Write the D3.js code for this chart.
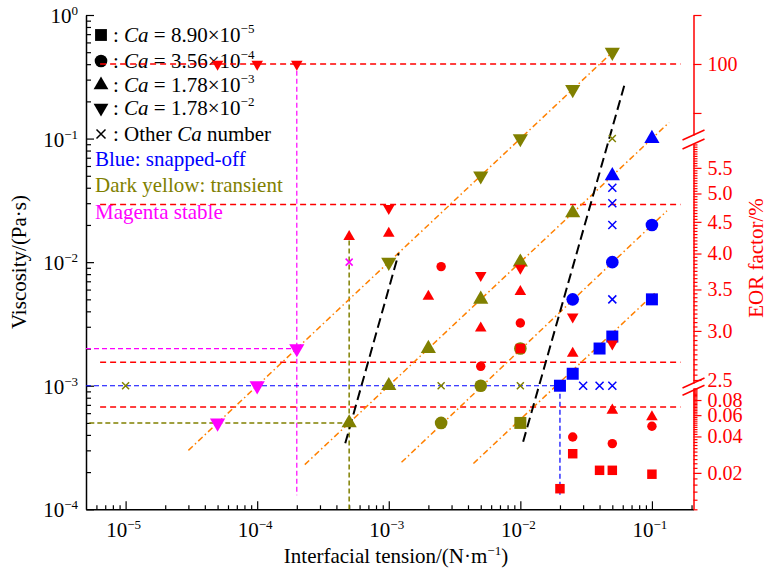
<!DOCTYPE html>
<html>
<head>
<meta charset="utf-8">
<script src="https://cdn.jsdelivr.net/npm/d3@7"></script>
<style>
body { margin: 0; background: #fff; }
svg, svg text { font-family: "Liberation Serif", "Times New Roman", serif; }
</style>
</head>
<body>
<svg id="chart" width="769" height="574"></svg>
<script>
// ---- data: [interfacial tension, viscosity] ----
var xMajor = [1e-5, 1e-4, 1e-3, 1e-2, 1e-1];
var yMajor = [1e-4, 1e-3, 1e-2, 1e-1, 1];

var blueSquares = [[2e-2, 1e-3], [2.5e-2, 1.25e-3], [4e-2, 2e-3], [5e-2, 2.5e-3], [0.1, 5e-3]];
var blueCircles = [[2.5e-2, 5e-3], [5e-2, 1e-2], [0.1, 2e-2]];
var blueUp = [[5e-2, 5e-2], [0.1, 0.1]];
var blueCross = [[3e-2, 1e-3], [4e-2, 1e-3], [5e-2, 1e-3], [5e-2, 5e-3], [5e-2, 2e-2], [5e-2, 3e-2], [5e-2, 4e-2]];

var yellowSquares = [[1e-2, 5e-4]];
var yellowCircles = [[2.5e-3, 5e-4], [5e-3, 1e-3], [1e-2, 2e-3]];
var yellowUp = [[5e-4, 5e-4], [1e-3, 1e-3], [2e-3, 2e-3], [5e-3, 5e-3], [1e-2, 1e-2], [2.5e-2, 2.5e-2]];
var yellowDown = [[1e-3, 1e-2], [5e-3, 5e-2], [1e-2, 0.1], [2.5e-2, 0.25], [5e-2, 0.5]];
var yellowCross = [[1e-5, 1e-3], [2.5e-3, 1e-3], [1e-2, 1e-3], [5e-2, 0.1]];

var magentaDown = [[5e-5, 5e-4], [1e-4, 1e-3], [2e-4, 2e-3]];
var magentaCross = [[5e-4, 1e-2]];

// EOR factor (right axis): [interfacial tension, EOR %]
var eorSquares = [[1e-2, 2.81], [2e-2, 0.0148], [2.5e-2, 0.0288], [4e-2, 0.021], [5e-2, 0.021], [0.1, 0.0195]];
var eorCircles = [[2.5e-3, 3.81], [5e-3, 2.63], [1e-2, 3.09], [2.5e-2, 0.0396], [5e-2, 0.0349], [0.1, 0.0486]];
var eorUp = [[5e-4, 4.26], [1e-3, 4.31], [2e-3, 3.41], [5e-3, 3.03], [1e-2, 3.47], [2.5e-2, 2.76], [5e-2, 0.0658], [0.1, 0.058]];
var eorDown = [[5e-5, 100], [1e-4, 100], [2e-4, 100], [1e-3, 4.73], [5e-3, 3.69], [1e-2, 3.79], [2.5e-2, 3.16], [5e-2, 2.86]];
var eorLines = [100, 4.8, 2.67, 0.07];
var eorLineSpan = [6.4e-6, 0.165];

// constant-Ca fit lines and transition lines (end points)
var fitLines = [
    [[3e-5, 3e-4], [5e-2, 0.5]],
    [[2.3e-4, 2.3e-4], [0.135, 0.135]],
    [[1.25e-3, 2.4e-4], [0.13, 0.026]],
    [[4.4e-3, 2.35e-4], [0.105, 5.6e-3]]
];
var blackLines = [
    [[4.67e-4, 3.42e-4], [1.19e-3, 1.18e-2]],
    [[1.05e-2, 3.52e-4], [6.28e-2, 0.288]]
];
var magentaGuides = [[[2e-4, 0.41], [2e-4, 1.3e-4]], [[5e-6, 2e-3], [2e-4, 2e-3]]];
var blueGuides = [[[5e-6, 1e-3], [2e-2, 1e-3]], [[2e-2, 1e-3], [2e-2, 1.3e-4]]];
var yellowGuides = [[[5.3e-6, 5e-4], [5e-4, 5e-4]], [[5e-4, 1.5e-2], [5e-4, 1e-4]]];

// right axis ticks
var topTicks = [80, 100, 120];
var midMajor = [2.5, 3.0, 3.5, 4.0, 4.5, 5.0, 5.5];
var botMajor = [0.02, 0.04, 0.06, 0.08];

var legendCa = ["8.90", "3.56", "1.78", "1.78"];
var legendExp = ["\u22125", "\u22124", "\u22123", "\u22122"];

// ---- scales ----
var x = d3.scaleLog().domain([5e-6, 0.207]).range([86, 693.5]);
var y = d3.scaleLog().domain([1e-4, 1]).range([509.3, 15]);
var eorTop = d3.scaleLinear().domain([71, 120]).range([135, 15]);
var eorMid = d3.scaleLog().domain([2.472, 6.01]).range([383, 144]);
var eorBot = d3.scaleLog().domain([0.01, 0.1]).range([509.3, 388.3]);
function eorY(v) {
    if (v >= 50) return eorTop(v);
    if (v >= 2) return eorMid(v);
    return eorBot(v);
}

var svg = d3.select("#chart");
var RED = "#ff0000", BLUE = "#0000ff", DY = "#808000", MAG = "#ff00ff", ORANGE = "#ff8000";

// minor ticks
function minorLog(lo, hi) {
    var out = [];
    for (var e = -6; e <= 0; e++) {
        for (var m = 2; m <= 9; m++) {
            var v = m * Math.pow(10, e);
            if (v >= lo && v <= hi) out.push(v);
        }
    }
    return out;
}
function stepTicks(lo, hi, step, skip) {
    var out = [];
    for (var v = lo; v <= hi + 1e-9; v += step) {
        var r = +v.toFixed(4);
        if (skip.indexOf(r) < 0) out.push(r);
    }
    return out;
}

// ---- axes ----
function supLabel(sel, exp) {
    sel.append("tspan").text("10");
    sel.append("tspan").attr("dy", -8).attr("font-size", 13).text(exp);
}
function expText(v) {
    var e = Math.round(Math.log10(v));
    return e < 0 ? "\u2212" + (-e) : "" + e;
}

var xAxis = svg.append("g").attr("transform", "translate(0," + y.range()[0] + ")");
xAxis.call(d3.axisBottom(x).tickValues(xMajor).tickSize(-8).tickSizeOuter(0).tickFormat(""));
svg.append("g").attr("transform", "translate(0," + y.range()[0] + ")")
    .call(d3.axisBottom(x).tickValues(minorLog(5e-6, 0.207)).tickSize(-4).tickSizeOuter(0).tickFormat(""))
    .select(".domain").remove();
var yAxis = svg.append("g").attr("transform", "translate(" + x.range()[0] + ",0)");
yAxis.call(d3.axisLeft(y).tickValues(yMajor).tickSize(-8).tickSizeOuter(0).tickFormat(""));
svg.append("g").attr("transform", "translate(" + x.range()[0] + ",0)")
    .call(d3.axisLeft(y).tickValues(minorLog(1e-4, 1)).tickSize(-5).tickSizeOuter(0).tickFormat(""))
    .select(".domain").remove();
svg.selectAll(".domain").attr("stroke", "#000").attr("stroke-width", 1.5);
svg.selectAll(".tick line").attr("stroke", "#000").attr("stroke-width", 1.2);

xMajor.forEach(function (v) {
    var t = svg.append("text").attr("x", x(v) - 2).attr("y", 537)
        .attr("text-anchor", "middle").attr("font-size", 21);
    supLabel(t, expText(v));
});
yMajor.forEach(function (v) {
    var t = svg.append("text").attr("x", 78).attr("y", y(v) + 8)
        .attr("text-anchor", "end").attr("font-size", 21);
    supLabel(t, expText(v));
});

// right (EOR) broken axis
var rx = x.range()[1];
function redAxis(scale, major, minor, fmt) {
    var g = svg.append("g").attr("class", "eor").attr("transform", "translate(" + rx + ",0)");
    g.call(d3.axisRight(scale).tickValues(major).tickSize(8).tickSizeOuter(0).tickPadding(6).tickFormat(fmt));
    if (minor.length) {
        svg.append("g").attr("class", "eor").attr("transform", "translate(" + rx + ",0)")
            .call(d3.axisRight(scale).tickValues(minor).tickSize(4).tickSizeOuter(0).tickFormat(""))
            .select(".domain").remove();
    }
}
redAxis(eorTop, topTicks, [], function (d) { return d === 100 ? "100" : ""; });
redAxis(eorMid, midMajor, stepTicks(2.5, 6.0, 0.05, midMajor), d3.format(".1f"));
redAxis(eorBot, botMajor, stepTicks(0.01, 0.1, 0.002, botMajor), function (d) { return d.toFixed(2); });
svg.selectAll("g.eor").attr("font-family", null).attr("font-size", null);
svg.selectAll("g.eor .domain").attr("stroke", RED).attr("stroke-width", 1.5);
svg.selectAll("g.eor .tick line").attr("stroke", RED).attr("stroke-width", 1.2);
svg.selectAll("g.eor text").attr("fill", RED).attr("font-size", 20);
// break marks
[eorTop.range()[0], eorMid.range()[1], eorMid.range()[0], eorBot.range()[1] + 2].forEach(function (yy) {
    svg.append("line").attr("x1", rx - 11).attr("y1", yy + 5).attr("x2", rx + 11).attr("y2", yy - 5)
        .attr("stroke", RED).attr("stroke-width", 1.5);
});

// titles
svg.append("text").attr("transform", "translate(26,262) rotate(-90)")
    .attr("text-anchor", "middle").attr("font-size", 21).text("Viscosity/(Pa\u00b7s)");
svg.append("text").attr("transform", "translate(763,258) rotate(-90)")
    .attr("text-anchor", "middle").attr("font-size", 21).attr("fill", RED).text("EOR factor/%");
var xt = svg.append("text").attr("x", 396).attr("y", 563).attr("text-anchor", "middle").attr("font-size", 21);
xt.append("tspan").text("Interfacial tension/(N\u00b7m");
xt.append("tspan").attr("dy", -8).attr("font-size", 13).text("\u22121");
xt.append("tspan").attr("dy", 8).text(")");

// ---- markers ----
var shapes = {
    square: d3.symbolSquare, circle: d3.symbolCircle, up: d3.symbolTriangle, down: d3.symbolTriangle
};
function marker(g, shape, color, size, cx, cy) {
    if (shape === "cross") {
        var h = size;
        g.append("path")
            .attr("d", "M" + (cx - h) + "," + (cy - h) + "L" + (cx + h) + "," + (cy + h) +
                "M" + (cx - h) + "," + (cy + h) + "L" + (cx + h) + "," + (cy - h))
            .attr("stroke", color).attr("stroke-width", 1.5).attr("fill", "none");
        return;
    }
    g.append("path")
        .attr("d", d3.symbol().type(shapes[shape]).size(size)())
        .attr("transform", "translate(" + cx + "," + cy + ")" + (shape === "down" ? " rotate(180)" : ""))
        .attr("fill", color);
}
function drawMarks(data, shape, color, size, yf) {
    var g = svg.append("g");
    data.forEach(function (d) { marker(g, shape, color, size, x(d[0]), yf(d[1])); });
}

// legend
var lg = svg.append("g");
var legendShapes = ["square", "circle", "up", "down"];
var legendRows = [35, 61, 85, 108];
legendShapes.forEach(function (s, i) {
    marker(lg, s, "#000", s === "square" ? 140 : s === "circle" ? 125 : 95, 101, legendRows[i]);
    var t = lg.append("text").attr("x", 113).attr("y", legendRows[i] + 7).attr("font-size", 21);
    t.append("tspan").text(": ");
    t.append("tspan").attr("font-style", "italic").text("Ca");
    t.append("tspan").text(" = " + legendCa[i] + "\u00d710");
    t.append("tspan").attr("dy", -9).attr("font-size", 13).text(legendExp[i]);
});
marker(lg, "cross", "#000", 4.5, 101, 134);
var ot = lg.append("text").attr("x", 113).attr("y", 141).attr("font-size", 21);
ot.append("tspan").text(": Other ");
ot.append("tspan").attr("font-style", "italic").text("Ca");
ot.append("tspan").text(" number");
lg.append("text").attr("x", 95).attr("y", 166).attr("font-size", 21).attr("fill", BLUE).text("Blue: snapped-off");
lg.append("text").attr("x", 95).attr("y", 192).attr("font-size", 21).attr("fill", DY).text("Dark yellow: transient");
lg.append("text").attr("x", 95).attr("y", 219).attr("font-size", 21).attr("fill", MAG).text("Magenta stable");

// lines
var line = d3.line().x(function (d) { return x(d[0]); }).y(function (d) { return y(d[1]); });
function drawLines(segs, color, width, dash) {
    svg.append("g").selectAll("path").data(segs).enter().append("path")
        .attr("d", line).attr("stroke", color).attr("stroke-width", width)
        .attr("stroke-dasharray", dash).attr("fill", "none");
}
drawLines(magentaGuides, MAG, 1.2, "5,3");
drawLines(blueGuides, BLUE, 1.2, "5,3");
drawLines(yellowGuides, DY, 1.5, "5,3");
svg.append("g").selectAll("line").data(eorLines).enter().append("line")
    .attr("x1", x(eorLineSpan[0])).attr("x2", x(eorLineSpan[1]))
    .attr("y1", eorY).attr("y2", eorY)
    .attr("stroke", RED).attr("stroke-width", 1.5).attr("stroke-dasharray", "6,4");
drawLines(fitLines, ORANGE, 1.5, "6,3,1.5,3");
drawLines(blackLines, "#000", 2, "10,5");

// state markers
drawMarks(yellowSquares, "square", DY, 144, y);
drawMarks(yellowCircles, "circle", DY, 125, y);
drawMarks(yellowUp, "up", DY, 100, y);
drawMarks(yellowDown, "down", DY, 100, y);
drawMarks(yellowCross, "cross", DY, 3.5, y);
drawMarks(blueSquares, "square", BLUE, 144, y);
drawMarks(blueCircles, "circle", BLUE, 125, y);
drawMarks(blueUp, "up", BLUE, 100, y);
drawMarks(blueCross, "cross", BLUE, 4, y);
drawMarks(magentaDown, "down", MAG, 100, y);
drawMarks(magentaCross, "cross", MAG, 3.5, y);

// EOR markers
drawMarks(eorSquares, "square", RED, 90, eorY);
drawMarks(eorCircles, "circle", RED, 70, eorY);
drawMarks(eorUp, "up", RED, 58, eorY);
drawMarks(eorDown, "down", RED, 58, eorY);
</script>
</body>
</html>
